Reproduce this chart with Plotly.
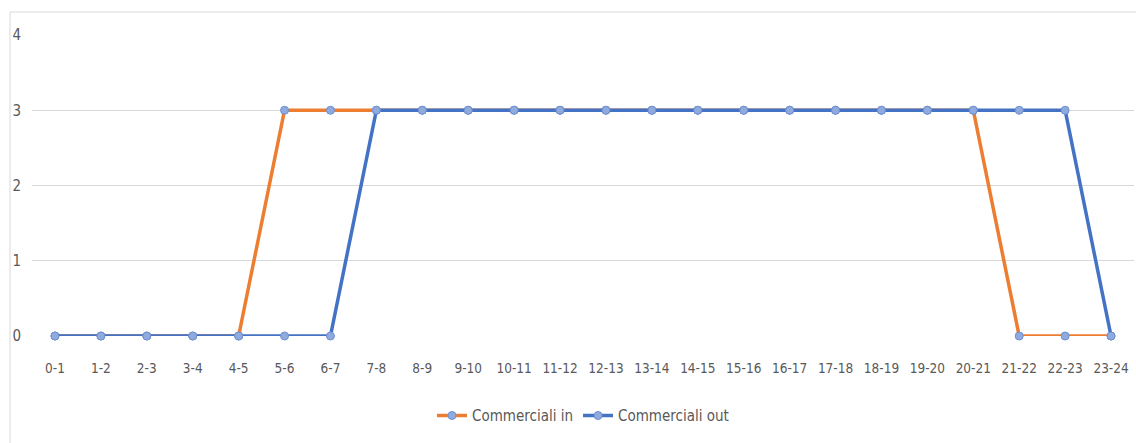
import plotly.graph_objects as go

# Hourly time slots
slots = ["0-1", "1-2", "2-3", "3-4", "4-5", "5-6", "6-7", "7-8", "8-9", "9-10",
         "10-11", "11-12", "12-13", "13-14", "14-15", "15-16", "16-17", "17-18",
         "18-19", "19-20", "20-21", "21-22", "22-23", "23-24"]

commerciali_in = [0, 0, 0, 0, 0, 3, 3, 3, 3, 3, 3, 3, 3, 3, 3, 3, 3, 3, 3, 3, 3, 0, 0, 0]
commerciali_out = [0, 0, 0, 0, 0, 0, 0, 3, 3, 3, 3, 3, 3, 3, 3, 3, 3, 3, 3, 3, 3, 3, 3, 0]

y_ticks = [0, 1, 2, 3, 4]

FONT = "DejaVu Sans Condensed, Liberation Sans Narrow, sans-serif"
TEXT = "#595959"
GRID = "#d9d9d9"

marker_style = dict(size=8, color="#8FAADC", line=dict(color="#6F8FD2", width=1))

fig = go.Figure()
fig.add_trace(go.Scatter(
    x=slots, y=commerciali_in, name="Commerciali in", mode="lines+markers",
    line=dict(color="#ED7D31", width=3.5), marker=marker_style, cliponaxis=False,
))
fig.add_trace(go.Scatter(
    x=slots, y=commerciali_out, name="Commerciali out", mode="lines+markers",
    line=dict(color="#4472C4", width=3.5), marker=marker_style, cliponaxis=False,
))

# Outer frame of the chart area
L, R, T, B = 32, 2, 35, 107
W, H = 1136, 443
pw, ph = W - L - R, H - T - B
fig.add_shape(type="rect", xref="paper", yref="paper",
              x0=(10 - L) / pw, x1=(W + 5 - L) / pw,
              y0=-(B + 5) / ph, y1=(H - B - 12) / ph,
              line=dict(color=GRID, width=1), fillcolor="rgba(0,0,0,0)", layer="below")

fig.update_layout(
    width=W, height=H,
    margin=dict(l=L, r=R, t=T, b=B),
    paper_bgcolor="white", plot_bgcolor="white",
    font=dict(family=FONT, color=TEXT, size=13),
    showlegend=True,
    legend=dict(orientation="h", x=0.5, xanchor="center", y=-0.265, yanchor="middle",
                font=dict(size=15, color=TEXT), itemclick=False,
                traceorder="normal", tracegroupgap=0),
    xaxis=dict(type="category", categoryorder="array", categoryarray=slots,
               range=[-0.5, len(slots) - 0.5], showgrid=False, zeroline=False,
               showline=False, ticks="", ticklabelstandoff=22,
               tickfont=dict(size=13.5, color=TEXT), fixedrange=True),
    yaxis=dict(range=[0, 4], tickvals=y_ticks, showgrid=True, gridcolor=GRID,
               gridwidth=1, zeroline=False, showline=False, ticks="",
               ticklabelstandoff=10, tickfont=dict(size=15, color=TEXT),
               fixedrange=True),
)

fig.write_html("out.html")
